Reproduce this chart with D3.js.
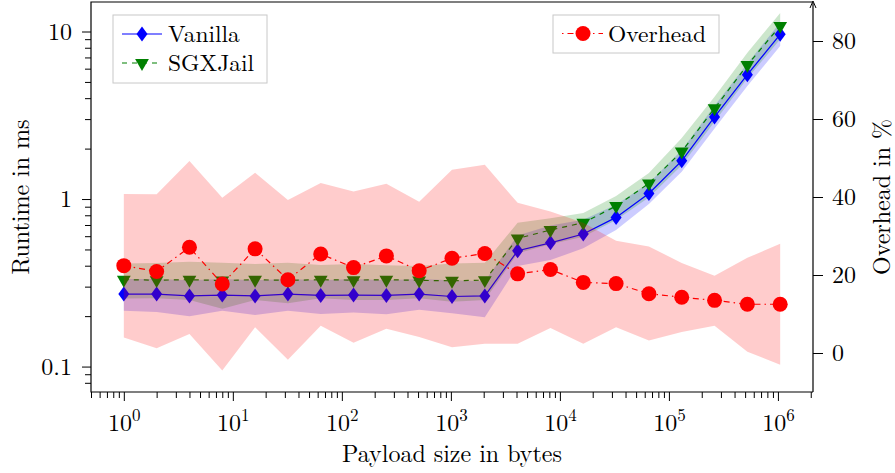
<!DOCTYPE html>
<html>
<head>
<meta charset="utf-8">
<script src="https://cdn.jsdelivr.net/npm/d3@7"></script>
<style>
  body { margin: 0; background: #fff; }
  svg text { font-family: "Latin Modern Roman", "CMU Serif", "Liberation Serif", serif; }
</style>
</head>
<body>
<div id="chart"></div>
<script>
// payload sizes in bytes (2^0 .. 2^20)
const payload = [1, 2, 4, 8, 16, 32, 64, 128, 256, 512, 1024, 2048, 4096, 8192,
    16384, 32768, 65536, 131072, 262144, 524288, 1048576];

// runtime in ms
const vanilla     = [0.271, 0.271, 0.264, 0.267, 0.264, 0.271, 0.266, 0.267, 0.266, 0.271, 0.262, 0.264, 0.491, 0.548, 0.618, 0.777, 1.08, 1.69, 3.09, 5.52, 9.62];
const vanillaLow  = [0.215, 0.212, 0.200, 0.215, 0.203, 0.215, 0.206, 0.210, 0.205, 0.218, 0.208, 0.197, 0.398, 0.432, 0.508, 0.653, 0.934, 1.455, 2.64, 4.73, 8.19];
const vanillaHigh = [0.333, 0.333, 0.328, 0.333, 0.328, 0.333, 0.328, 0.333, 0.328, 0.333, 0.328, 0.324, 0.606, 0.696, 0.752, 0.926, 1.246, 1.953, 3.61, 6.45, 11.3];

const sgx     = [0.330, 0.328, 0.330, 0.326, 0.330, 0.327, 0.330, 0.328, 0.330, 0.327, 0.325, 0.328, 0.582, 0.653, 0.722, 0.908, 1.24, 1.92, 3.48, 6.31, 10.8];
const sgxLow  = [0.255, 0.256, 0.250, 0.221, 0.250, 0.239, 0.256, 0.250, 0.250, 0.256, 0.244, 0.250, 0.474, 0.538, 0.596, 0.749, 1.023, 1.59, 2.89, 5.26, 8.98];
const sgxHigh = [0.413, 0.415, 0.422, 0.417, 0.409, 0.417, 0.404, 0.409, 0.402, 0.398, 0.413, 0.417, 0.722, 0.767, 0.825, 1.042, 1.43, 2.31, 4.08, 7.47, 12.9];

// overhead in %
const overhead     = [22.4, 20.9, 27.1, 17.7, 26.7, 18.8, 25.4, 21.9, 24.9, 21.1, 24.3, 25.5, 20.3, 21.4, 18.1, 17.8, 15.2, 14.3, 13.5, 12.5, 12.5];
const overheadLow  = [4.0, 1.2, 4.9, -4.5, 6.6, -1.7, 7.0, 2.6, 6.2, 4.1, 1.5, 2.4, 2.4, 6.4, 2.4, 6.6, 3.2, 5.4, 7.0, 0.3, -3.0];
const overheadHigh = [40.8, 40.7, 49.2, 39.8, 46.2, 39.2, 43.6, 41.4, 43.4, 38.8, 47.0, 48.3, 38.5, 36.3, 33.4, 28.8, 27.3, 23.1, 19.8, 24.4, 28.0];

// ticks
const xMajor = [1, 10, 100, 1000, 10000, 100000, 1000000];
const yLeftMajor = [0.1, 1, 10];
const yRightTicks = [0, 20, 40, 60, 80];

const width = 895,
    height = 473,
    margin = { top: 2, bottom: 81, left: 91, right: 82 };
const font = "'Latin Modern Roman', 'CMU Serif', 'Liberation Serif', serif";

const xScale = d3.scaleLog().base(2)
    .domain([0.5, 2 ** 21])
    .range([margin.left, width - margin.right]);

const yLeft = d3.scaleLog()
    .domain([0.0705, 15])
    .range([height - margin.bottom, margin.top]);

const yRight = d3.scaleLinear()
    .domain([-10, 90])
    .range([height - margin.bottom, margin.top]);

const svg = d3.select("#chart")
    .append("svg")
    .attr("width", width)
    .attr("height", height);

// minor ticks
const xMinor = [];
[0.1, 1, 10, 100, 1000, 10000, 100000, 1000000].forEach(p => {
    for (let k = 2; k <= 9; k++) {
        const v = p * k;
        if (v >= 0.5 && v <= 2 ** 21) xMinor.push(v);
    }
});
const yMinor = [];
[0.01, 0.1, 1, 10].forEach(p => {
    for (let k = 2; k <= 9; k++) {
        const v = p * k;
        if (v >= 0.0705 && v <= 15) yMinor.push(v);
    }
});

// ---- bands (runtime) ----
const band = (lo, hi, y) => d3.area()
    .x((d, i) => xScale(payload[i]))
    .y0((d, i) => y(lo[i]))
    .y1((d, i) => y(hi[i]));

svg.append("path").datum(payload)
    .attr("d", band(vanillaLow, vanillaHigh, yLeft))
    .attr("fill", "#0000ff").attr("fill-opacity", 0.2);

svg.append("path").datum(payload)
    .attr("d", band(sgxLow, sgxHigh, yLeft))
    .attr("fill", "#008000").attr("fill-opacity", 0.2);

const lineL = d3.line().x((d, i) => xScale(payload[i])).y(d => yLeft(d));
const lineR = d3.line().x((d, i) => xScale(payload[i])).y(d => yRight(d));

const diamond = "M0,-7.5L5.5,0L0,7.5L-5.5,0Z";
const triangle = d3.symbol(d3.symbolTriangle, 82)();

// Vanilla
svg.append("path").datum(vanilla)
    .attr("d", lineL).attr("fill", "none")
    .attr("stroke", "#0000ff").attr("stroke-width", 1.2);
svg.append("g").selectAll("path")
    .data(vanilla)
    .join("path")
    .attr("d", diamond)
    .attr("transform", (d, i) => `translate(${xScale(payload[i])},${yLeft(d)})`)
    .attr("fill", "#0000ff");

// SGXJail
svg.append("path").datum(sgx)
    .attr("d", lineL).attr("fill", "none")
    .attr("stroke", "#008000").attr("stroke-width", 1.2)
    .attr("stroke-dasharray", "5,5");
svg.append("g").selectAll("path")
    .data(sgx)
    .join("path")
    .attr("d", triangle)
    .attr("transform", (d, i) => `translate(${xScale(payload[i])},${yLeft(d)}) rotate(180)`)
    .attr("fill", "#008000");

// ---- overhead ----
svg.append("path").datum(payload)
    .attr("d", band(overheadLow, overheadHigh, yRight))
    .attr("fill", "#ff0000").attr("fill-opacity", 0.2);

svg.append("path").datum(overhead)
    .attr("d", lineR).attr("fill", "none")
    .attr("stroke", "#ff0000").attr("stroke-width", 1.2)
    .attr("stroke-dasharray", "6,4,1.5,4");
svg.append("g").selectAll("circle")
    .data(overhead)
    .join("circle")
    .attr("cx", (d, i) => xScale(payload[i]))
    .attr("cy", d => yRight(d))
    .attr("r", 7.5)
    .attr("fill", "#ff0000");

// ---- axes ----
const styleAxis = g => {
    g.attr("font-family", font).attr("font-size", 24);
    g.select(".domain").remove();
};

svg.append("g")
    .attr("transform", `translate(0,${height - margin.bottom})`)
    .call(d3.axisBottom(xScale).tickValues(xMinor).tickSize(6).tickFormat(""))
    .call(styleAxis);

const xAxis = svg.append("g")
    .attr("transform", `translate(0,${height - margin.bottom})`)
    .call(d3.axisBottom(xScale).tickValues(xMajor).tickSize(9).tickFormat(""))
    .call(styleAxis);

xAxis.selectAll(".tick text").remove();
xAxis.selectAll(".tick")
    .append("text")
    .attr("fill", "#000")
    .attr("y", 39)
    .attr("text-anchor", "middle")
    .each(function (d) {
        const t = d3.select(this);
        t.append("tspan").text("10");
        t.append("tspan")
            .attr("font-size", 17)
            .attr("dy", -10)
            .text(Math.round(Math.log10(d)));
    });

svg.append("g")
    .attr("transform", `translate(${margin.left},0)`)
    .call(d3.axisLeft(yLeft).tickValues(yMinor).tickSize(6).tickFormat(""))
    .call(styleAxis);

svg.append("g")
    .attr("transform", `translate(${margin.left},0)`)
    .call(d3.axisLeft(yLeft).tickValues(yLeftMajor).tickSize(9).tickPadding(10).tickFormat(d3.format("~g")))
    .call(styleAxis);

svg.append("g")
    .attr("transform", `translate(${width - margin.right},0)`)
    .call(d3.axisRight(yRight).tickValues(yRightTicks).tickSize(10).tickPadding(9))
    .call(styleAxis);

// frame
const x0 = margin.left, x1 = width - margin.right,
    y0 = margin.top, y1 = height - margin.bottom;
svg.append("path")
    .attr("d", `M${x1},${y1}H${x0}V${y0}H${x1}`)
    .attr("fill", "none").attr("stroke", "#000").attr("stroke-width", 1.2);
svg.append("path")
    .attr("d", `M${x1},${y1}V${y0 + 1}`)
    .attr("fill", "none").attr("stroke", "#000").attr("stroke-width", 1.2);
svg.append("path")
    .attr("d", `M${x1 - 3},${y0 + 6}L${x1},${y0 - 1}L${x1 + 3},${y0 + 6}`)
    .attr("fill", "none").attr("stroke", "#000").attr("stroke-width", 1);

// axis labels
svg.append("text")
    .attr("x", (x0 + x1) / 2).attr("y", 462)
    .attr("text-anchor", "middle").attr("font-size", 24)
    .text("Payload size in bytes");

svg.append("text")
    .attr("transform", `translate(28.5,${(y0 + y1) / 2}) rotate(-90)`)
    .attr("text-anchor", "middle").attr("font-size", 24)
    .text("Runtime in ms");

svg.append("text")
    .attr("transform", `translate(890,${(y0 + y1) / 2}) rotate(-90)`)
    .attr("text-anchor", "middle").attr("font-size", 24)
    .text("Overhead in %");

// ---- legends ----
const legend1 = svg.append("g").attr("transform", "translate(113,15)");
legend1.append("rect")
    .attr("width", 154).attr("height", 68)
    .attr("fill", "#fff").attr("stroke", "#c8c8c8").attr("stroke-width", 1);

const entries = [
    { name: "Vanilla", color: "#0000ff", dash: null, mark: diamond, rot: 0 },
    { name: "SGXJail", color: "#008000", dash: "5,5", mark: triangle, rot: 180 }
];
entries.forEach((e, i) => {
    const cy = 19 + i * 29;
    legend1.append("line")
        .attr("x1", 9).attr("x2", 49).attr("y1", cy).attr("y2", cy)
        .attr("stroke", e.color).attr("stroke-width", 1.2)
        .attr("stroke-dasharray", e.dash);
    legend1.append("path")
        .attr("d", e.mark)
        .attr("transform", `translate(29,${cy}) rotate(${e.rot})`)
        .attr("fill", e.color);
    legend1.append("text")
        .attr("x", 55).attr("y", cy + 8)
        .attr("font-size", 23.5)
        .text(e.name);
});

const legend2 = svg.append("g").attr("transform", "translate(553,15)");
legend2.append("rect")
    .attr("width", 166).attr("height", 38)
    .attr("fill", "#fff").attr("stroke", "#c8c8c8").attr("stroke-width", 1);
legend2.append("line")
    .attr("x1", 9).attr("x2", 50).attr("y1", 18.5).attr("y2", 18.5)
    .attr("stroke", "#ff0000").attr("stroke-width", 1.2)
    .attr("stroke-dasharray", "1.5,4,6,4");
legend2.append("circle")
    .attr("cx", 30).attr("cy", 18.5).attr("r", 7.5).attr("fill", "#ff0000");
legend2.append("text")
    .attr("x", 55).attr("y", 26.5)
    .attr("font-size", 23.5)
    .text("Overhead");
</script>
</body>
</html>
